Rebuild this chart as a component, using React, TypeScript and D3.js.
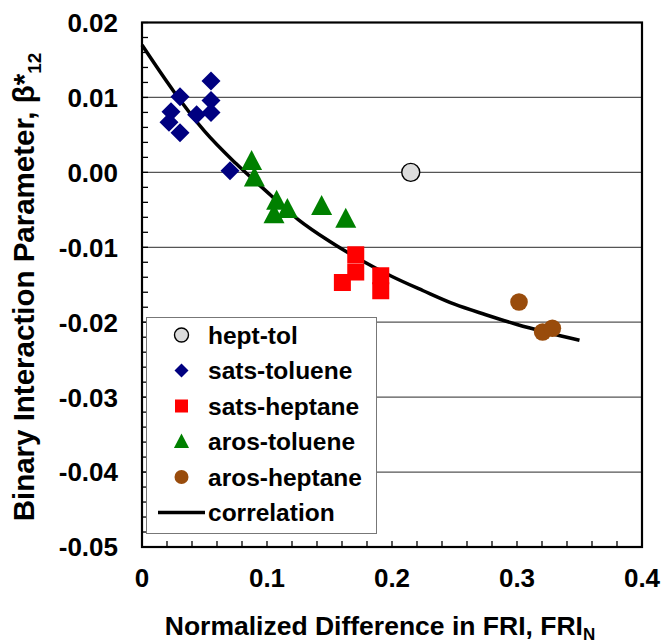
import React from "react";
import * as d3 from "d3";

// Measured binary interaction parameters by system
const heptTolX = [0.215];
const heptTolY = [0.0];

const satsTolueneX = [0.0304, 0.0232, 0.0216, 0.0304, 0.0437, 0.0552, 0.0552, 0.0552, 0.0704];
const satsTolueneY = [0.0101, 0.0081, 0.0067, 0.0053, 0.0077, 0.0122, 0.0096, 0.0080, 0.0002];

const satsHeptaneX = [0.171, 0.171, 0.1603, 0.191, 0.191];
const satsHeptaneY = [-0.011, -0.0133, -0.0147, -0.0138, -0.0158];

const arosTolueneX = [0.0877, 0.0899, 0.1077, 0.1056, 0.1163, 0.1437, 0.163];
const arosTolueneY = [0.0015, -0.0007, -0.0038, -0.0056, -0.0049, -0.0045, -0.0062];

const arosHeptaneX = [0.3016, 0.3205, 0.3283];
const arosHeptaneY = [-0.0173, -0.0213, -0.0208];

// Correlation curve
const corrX = [0, 0.025, 0.05, 0.075, 0.1, 0.125, 0.15, 0.175, 0.2, 0.225, 0.25, 0.275, 0.3, 0.325, 0.35];
const corrY = [0.017, 0.0109, 0.0055, 0.0012, -0.0026, -0.0063, -0.0092, -0.0117, -0.0139, -0.0158, -0.0176, -0.019, -0.0203, -0.0214, -0.0224];

const xTicks = [0, 0.1, 0.2, 0.3, 0.4];
const xTickLabels = ["0", "0.1", "0.2", "0.3", "0.4"];
const yTicks = [0.02, 0.01, 0.0, -0.01, -0.02, -0.03, -0.04, -0.05];
const yTickLabels = ["0.02", "0.01", "0.00", "-0.01", "-0.02", "-0.03", "-0.04", "-0.05"];

const legendLabels = ["hept-tol", "sats-toluene", "sats-heptane", "aros-toluene", "aros-heptane", "correlation"];

const W = 661;
const H = 642;
const plot = { left: 142, right: 642, top: 22.5, bottom: 547 };
const FONT = "Arial, 'Liberation Sans', sans-serif";

const NAVY = "#000080";
const RED = "#FF0000";
const GREEN = "#008000";
const BROWN = "#994C0C";
const LIGHT = "#DCDCDC";

type Kind = "circleGray" | "diamond" | "square" | "triangle" | "circleBrown";

function Marker({ kind, x, y, s }: { kind: Kind; x: number; y: number; s: number }) {
  if (kind === "circleGray")
    return <circle cx={x} cy={y} r={s} fill={LIGHT} stroke="#000" strokeWidth={1.4} />;
  if (kind === "circleBrown") return <circle cx={x} cy={y} r={s} fill={BROWN} />;
  if (kind === "diamond")
    return <path d={`M${x},${y - s}L${x + s},${y}L${x},${y + s}L${x - s},${y}Z`} fill={NAVY} />;
  if (kind === "square")
    return <rect x={x - s} y={y - s} width={2 * s} height={2 * s} fill={RED} />;
  const h = s * 2;
  return (
    <path
      d={`M${x},${y - h * 0.55}L${x + s * 1.05},${y + h * 0.45}L${x - s * 1.05},${y + h * 0.45}Z`}
      fill={GREEN}
    />
  );
}

export default function App() {
  const x = d3.scaleLinear().domain([0, 0.4]).range([plot.left, plot.right]);
  const y = d3.scaleLinear().domain([-0.05, 0.02]).range([plot.bottom, plot.top]);

  const corrLine = d3
    .line<number>()
    .x((_, i) => x(corrX[i]))
    .y((_, i) => y(corrY[i]))
    .curve(d3.curveMonotoneX);

  const xMinor = d3.range(0, 0.4001, 0.02);
  const yMinor = d3.range(-0.05, 0.02001, 0.002);

  const series: { kind: Kind; xs: number[]; ys: number[]; s: number }[] = [
    { kind: "diamond", xs: satsTolueneX, ys: satsTolueneY, s: 9.5 },
    { kind: "triangle", xs: arosTolueneX, ys: arosTolueneY, s: 10 },
    { kind: "square", xs: satsHeptaneX, ys: satsHeptaneY, s: 8.5 },
    { kind: "circleBrown", xs: arosHeptaneX, ys: arosHeptaneY, s: 8.8 },
    { kind: "circleGray", xs: heptTolX, ys: heptTolY, s: 9 },
  ];

  const legendKinds: Kind[] = ["circleGray", "diamond", "square", "triangle", "circleBrown"];
  const legend = { x: 146.5, y: 317.5, w: 230, h: 216, rowY0: 335, rowStep: 35.5 };

  return (
    <svg width={W} height={H} style={{ position: "absolute", left: 0, top: 0, background: "#fff" }}>
      <rect x={0} y={0} width={W} height={H} fill="#fff" />
      {/* gridlines */}
      {yTicks
        .filter((v) => v < 0.019 && v > -0.049)
        .map((v) => (
          <line key={v} x1={plot.left} x2={plot.right} y1={y(v)} y2={y(v)} stroke="#555" strokeWidth={1.2} />
        ))}

      {/* minor ticks */}
      {xMinor.map((v) => (
        <line key={"xm" + v} x1={x(v)} x2={x(v)} y1={plot.bottom} y2={plot.bottom - 6} stroke="#000" strokeWidth={1.3} />
      ))}
      {yMinor.map((v) => (
        <line key={"ym" + v} x1={plot.left} x2={plot.left + 6} y1={y(v)} y2={y(v)} stroke="#000" strokeWidth={1.3} />
      ))}

      {/* correlation */}
      <path d={corrLine(corrX) || ""} fill="none" stroke="#000" strokeWidth={3.5} strokeLinejoin="round" />

      {/* data markers */}
      {series.map((sr) =>
        sr.xs.map((v, i) => <Marker key={sr.kind + i} kind={sr.kind} x={x(v)} y={y(sr.ys[i])} s={sr.s} />)
      )}

      {/* plot frame */}
      <rect
        x={plot.left}
        y={plot.top}
        width={plot.right - plot.left}
        height={plot.bottom - plot.top}
        fill="none"
        stroke="#000"
        strokeWidth={2.2}
      />

      {/* legend */}
      <rect x={legend.x} y={legend.y} width={legend.w} height={legend.h} fill="#fff" stroke="#777" strokeWidth={1} />
      {legendLabels.map((lab, i) => {
        const ry = legend.rowY0 + i * legend.rowStep;
        return (
          <g key={lab}>
            {i < legendKinds.length ? (
              <Marker kind={legendKinds[i]} x={181.5} y={ry} s={legendKinds[i] === "triangle" ? 7.2 : legendKinds[i] === "square" ? 6.5 : 7} />
            ) : (
              <line x1={158} x2={205} y1={ry} y2={ry} stroke="#000" strokeWidth={3.5} />
            )}
            <text x={208} y={ry} dy="0.36em" fontFamily={FONT} fontWeight="bold" fontSize={24.5} fill="#000">
              {lab}
            </text>
          </g>
        );
      })}

      {/* y tick labels */}
      {yTicks.map((v, i) => (
        <text key={"yl" + v} x={118} y={y(v)} dy="0.36em" textAnchor="end" fontFamily={FONT} fontWeight="bold" fontSize={26} fill="#000">
          {yTickLabels[i]}
        </text>
      ))}
      {/* x tick labels */}
      {xTicks.map((v, i) => (
        <text key={"xl" + v} x={x(v)} y={578} dy="0.36em" textAnchor="middle" fontFamily={FONT} fontWeight="bold" fontSize={26} fill="#000">
          {xTickLabels[i]}
        </text>
      ))}

      {/* axis titles */}
      <text x={380} y={635} textAnchor="middle" fontFamily={FONT} fontWeight="bold" fontSize={26.5} fill="#000">
        Normalized Difference in FRI, FRI
        <tspan fontSize={17} dy="5">N</tspan>
      </text>
      <text
        transform={`translate(23,${287}) rotate(-90)`}
        textAnchor="middle"
        dy="0.36em"
        fontFamily={FONT}
        fontWeight="bold"
        fontSize={29.5}
        fill="#000"
      >
        Binary Interaction Parameter, β*
        <tspan fontSize={19} dy="7">12</tspan>
      </text>
    </svg>
  );
}
